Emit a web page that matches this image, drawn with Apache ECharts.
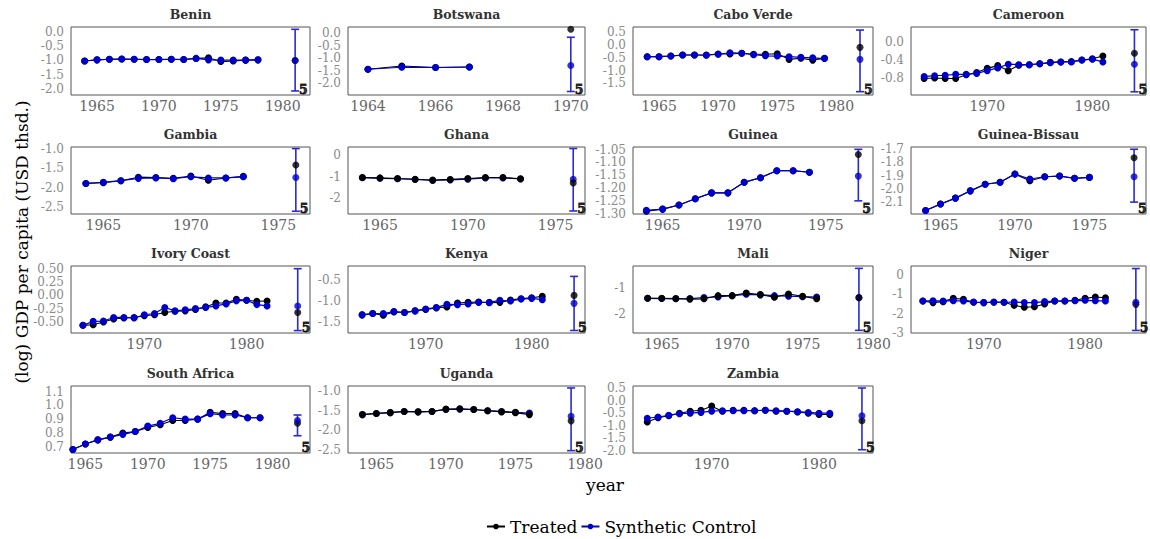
<!DOCTYPE html>
<html><head><meta charset="utf-8">
<script src="https://cdn.jsdelivr.net/npm/echarts@6/dist/echarts.min.js"></script>
<style>html,body{margin:0;padding:0;background:#fff}#c{width:1150px;height:539px}</style>
</head><body><div id="c"></div>
<script>
// ---------------- DATA ----------------
const countries = ['Benin','Botswana','Cabo Verde','Cameroon','Gambia','Ghana','Guinea','Guinea-Bissau','Ivory Coast','Kenya','Mali','Niger','South Africa','Uganda','Zambia'];
const firstYear = 1964;

const benin_treated = [-1.02,-0.98,-0.96,-0.95,-0.96,-0.97,-0.97,-0.96,-0.97,-0.93,-0.91,-1.04,-1.02,-0.99,-0.98];
const benin_synthetic = [-1.02,-0.98,-0.96,-0.95,-0.96,-0.97,-0.97,-0.96,-0.97,-0.93,-0.98,-0.99,-0.99,-0.99,-0.98];
const botswana_treated = [-1.44,-1.31,-1.37,-1.35];
const botswana_synthetic = [-1.44,-1.36,-1.37,-1.35];
const caboverde_treated = [-0.455,-0.455,-0.43,-0.39,-0.39,-0.39,-0.35,-0.35,-0.32,-0.36,-0.36,-0.34,-0.56,-0.52,-0.59,-0.52];
const caboverde_synthetic = [-0.455,-0.455,-0.43,-0.39,-0.39,-0.40,-0.36,-0.30,-0.32,-0.38,-0.42,-0.43,-0.455,-0.48,-0.50,-0.53];
const cameroon_treated = [-0.80,-0.79,-0.80,-0.80,-0.72,-0.67,-0.58,-0.52,-0.63,-0.51,-0.50,-0.48,-0.45,-0.44,-0.43,-0.40,-0.37,-0.31];
const cameroon_synthetic = [-0.76,-0.74,-0.73,-0.71,-0.71,-0.69,-0.63,-0.57,-0.49,-0.50,-0.50,-0.48,-0.46,-0.44,-0.44,-0.40,-0.38,-0.44];
const gambia_treated = [-1.89,-1.87,-1.82,-1.73,-1.74,-1.76,-1.70,-1.81,-1.75,-1.71];
const gambia_synthetic = [-1.89,-1.86,-1.82,-1.76,-1.75,-1.77,-1.72,-1.75,-1.75,-1.72];
const ghana_treated = [-1.03,-1.05,-1.08,-1.11,-1.15,-1.12,-1.08,-1.03,-1.03,-1.09];
const ghana_synthetic = [-1.04,-1.07,-1.09,-1.12,-1.17,-1.14,-1.11,-1.05,-1.05,-1.10];
const guinea_treated = [-1.289,-1.281,-1.265,-1.241,-1.218,-1.218,-1.177,-1.159,-1.132,-1.132,-1.138];
const guinea_synthetic = [-1.286,-1.281,-1.265,-1.241,-1.218,-1.218,-1.177,-1.159,-1.132,-1.132,-1.138];
const guineabissau_treated = [-2.163,-2.115,-2.07,-2.015,-1.965,-1.95,-1.888,-1.938,-1.908,-1.903,-1.92,-1.913];
const guineabissau_synthetic = [-2.163,-2.115,-2.07,-2.015,-1.965,-1.95,-1.888,-1.925,-1.908,-1.903,-1.92,-1.913];
const ivorycoast_treated = [-0.557,-0.545,-0.495,-0.44,-0.42,-0.41,-0.378,-0.36,-0.317,-0.293,-0.287,-0.263,-0.213,-0.139,-0.139,-0.071,-0.09,-0.108,-0.102];
const ivorycoast_synthetic = [-0.557,-0.483,-0.477,-0.41,-0.41,-0.42,-0.36,-0.336,-0.225,-0.287,-0.269,-0.244,-0.225,-0.195,-0.158,-0.10,-0.09,-0.17,-0.195];
const kenya_treated = [-1.327,-1.296,-1.335,-1.256,-1.272,-1.232,-1.20,-1.16,-1.138,-1.044,-1.028,-1.02,-1.036,-1.028,-0.973,-0.94,-0.917,-0.886];
const kenya_synthetic = [-1.327,-1.296,-1.296,-1.248,-1.272,-1.232,-1.185,-1.153,-1.075,-1.083,-1.067,-1.028,-1.028,-0.98,-0.996,-0.949,-0.933,-0.965];
const mali_treated = [-1.40,-1.40,-1.41,-1.43,-1.42,-1.30,-1.30,-1.20,-1.26,-1.36,-1.24,-1.32,-1.42];
const mali_synthetic = [-1.40,-1.41,-1.42,-1.41,-1.37,-1.35,-1.30,-1.25,-1.27,-1.30,-1.32,-1.34,-1.35];
const niger_treated = [-1.36,-1.44,-1.39,-1.22,-1.27,-1.42,-1.44,-1.42,-1.42,-1.58,-1.68,-1.65,-1.51,-1.36,-1.36,-1.32,-1.22,-1.15,-1.19];
const niger_synthetic = [-1.36,-1.34,-1.36,-1.34,-1.36,-1.41,-1.44,-1.41,-1.42,-1.41,-1.44,-1.44,-1.39,-1.36,-1.36,-1.34,-1.32,-1.34,-1.36];
const southafrica_treated = [0.68,0.72,0.75,0.77,0.80,0.81,0.84,0.86,0.89,0.89,0.90,0.95,0.94,0.94,0.91,0.91];
const southafrica_synthetic = [0.68,0.72,0.75,0.77,0.79,0.81,0.85,0.87,0.91,0.90,0.90,0.94,0.93,0.93,0.91,0.91];
const uganda_treated = [-1.60,-1.57,-1.55,-1.52,-1.53,-1.52,-1.46,-1.45,-1.47,-1.50,-1.53,-1.55,-1.60];
const uganda_synthetic = [-1.60,-1.57,-1.55,-1.52,-1.53,-1.52,-1.47,-1.46,-1.47,-1.50,-1.52,-1.54,-1.56];
const zambia_treated = [-0.85,-0.68,-0.60,-0.50,-0.42,-0.38,-0.22,-0.42,-0.38,-0.38,-0.40,-0.38,-0.42,-0.42,-0.45,-0.50,-0.55,-0.55];
const zambia_synthetic = [-0.70,-0.65,-0.58,-0.52,-0.50,-0.47,-0.42,-0.40,-0.40,-0.40,-0.40,-0.38,-0.40,-0.42,-0.44,-0.47,-0.50,-0.50];

// post-period estimate with interval
const postYear      = [1981, 1970, 1982, 1984, 1976, 1976, 1977, 1978, 1985, 1984, 1979, 1985, 1982, 1979, 1984];
const postTreated   = [-1.0, 0.16, -0.09, -0.25, -1.42, -1.28, -1.069, -1.765, -0.317, -0.862, -1.375, -1.53, 0.87, -1.76, -0.80];
const postSynthetic = [-1.0, -1.29, -0.56, -0.49, -1.74, -1.11, -1.153, -1.908, -0.195, -1.052, -1.375, -1.42, 0.89, -1.64, -0.60];
const ciLow         = [-2.06, -2.33, -1.83, -1.09, -2.60, -2.58, -1.249, -2.10, -0.655, -1.70, -2.61, -2.87, 0.78, -2.52, -1.95];
const ciHigh        = [0.08, -0.16, 0.59, 0.26, -1.0, 0.31, -1.049, -1.70, 0.50, -0.408, -0.27, 0.31, 0.93, -0.92, 0.50];
const ciCount       = [5,5,5,5,5,5,5,5,5,5,5,5,5,5,5];

// axis ranges and tick labels
const xMin = [1962.9, 1963.41, 1962.8, 1962.75, 1963.15, 1963.18, 1963.18, 1963.02, 1962.83, 1962.67, 1962.96, 1962.83, 1963.85, 1962.96, 1962.67];
const xMax = [1982.2, 1970.42, 1983.1, 1985.1, 1976.81, 1976.67, 1977.9, 1978.8, 1986.2, 1985.03, 1980.0, 1986.0, 1983.0, 1980.0, 1985.03];
const yMin = [-2.2, -2.47, -1.96, -1.16, -2.67, -2.72, -1.30, -2.19, -0.70, -1.76, -2.71, -3.0, 0.655, -2.58, -2.08];
const yMax = [0.16, 0.25, 0.71, 0.32, -0.96, 0.38, -1.04, -1.683, 0.55, -0.16, -0.18, 0.44, 1.14, -0.87, 0.58];
const xTicks = [
  [1965,1970,1975,1980],[1964,1966,1968,1970],[1965,1970,1975,1980],[1970,1980],
  [1965,1970,1975],[1965,1970,1975],[1965,1970,1975],[1965,1970,1975],
  [1970,1980],[1970,1980],[1965,1970,1975,1980],[1970,1980],
  [1965,1970,1975,1980],[1965,1970,1975,1980],[1970,1980]
];
const yTicks = [
  [0,-0.5,-1,-1.5,-2],[0,-0.5,-1,-1.5,-2],[0.5,0,-0.5,-1,-1.5],[0,-0.4,-0.8],
  [-1,-1.5,-2,-2.5],[0,-1,-2],[-1.05,-1.1,-1.15,-1.2,-1.25,-1.3],[-1.7,-1.8,-1.9,-2.0,-2.1],
  [0.5,0.25,0,-0.25,-0.5],[-0.5,-1,-1.5],[-1,-2],[0,-1,-2,-3],
  [1.1,1.0,0.9,0.8,0.7],[-1,-1.5,-2,-2.5],[0.5,0,-0.5,-1,-1.5,-2]
];
const yDecimals = [1,1,1,1,1,0,2,1,2,1,0,0,1,1,1];

// ---------------- LAYOUT / STYLE ----------------
const treatedData = [benin_treated,botswana_treated,caboverde_treated,cameroon_treated,gambia_treated,ghana_treated,guinea_treated,guineabissau_treated,ivorycoast_treated,kenya_treated,mali_treated,niger_treated,southafrica_treated,uganda_treated,zambia_treated];
const syntheticData = [benin_synthetic,botswana_synthetic,caboverde_synthetic,cameroon_synthetic,gambia_synthetic,ghana_synthetic,guinea_synthetic,guineabissau_synthetic,ivorycoast_synthetic,kenya_synthetic,mali_synthetic,niger_synthetic,southafrica_synthetic,uganda_synthetic,zambia_synthetic];
const blackOnTop = [false,false,false,false,false,true,false,false,false,false,true,false,false,true,false];

const FONT = 'DejaVu Serif';
const BLUE = '#0000CC';
const ERR = '#2a2ad4';
const colLeft = [71, 348, 633, 911];
const colWidth = [239, 237, 240, 235];
const rowTop = [27, 147, 266, 386];
const rowHeight = [68, 67, 67, 67];

const grids = [], xAxes = [], yAxes = [], series = [], graphics = [];

countries.forEach((name, i) => {
  const r = Math.floor(i / 4), c = i % 4;
  grids.push({left: colLeft[c], top: rowTop[r], width: colWidth[c], height: rowHeight[r],
    show: true, borderColor: '#555', borderWidth: 1, backgroundColor: 'transparent'});
  xAxes.push({type: 'value', gridIndex: i, min: xMin[i], max: xMax[i],
    splitLine: {show: false}, axisLine: {show: false}, axisTick: {show: false},
    axisLabel: {customValues: xTicks[i], margin: 4, fontFamily: FONT, fontSize: 14, color: '#666',
      formatter: v => String(Math.round(v))}});
  yAxes.push({type: 'value', gridIndex: i, min: yMin[i], max: yMax[i],
    splitLine: {show: false}, axisLine: {show: false}, axisTick: {show: false},
    axisLabel: {customValues: yTicks[i], margin: 7, fontFamily: FONT, fontSize: 12, color: '#8a8a8a',
      formatter: v => Number(v).toFixed(yDecimals[i])}});

  const tdat = treatedData[i].map((v, k) => [firstYear + k, v]);
  const sdat = syntheticData[i].map((v, k) => [firstYear + k, v]);
  const zT = blackOnTop[i] ? 5 : 4, zS = blackOnTop[i] ? 4 : 5;

  series.push({type: 'custom', xAxisIndex: i, yAxisIndex: i, silent: true, z: 2,
    data: [[postYear[i], ciLow[i], ciHigh[i]]],
    renderItem: (params, api) => {
      const x = api.value(0);
      const lo = api.coord([x, api.value(1)]);
      const hi = api.coord([x, api.value(2)]);
      const w = 4, st = {stroke: ERR, lineWidth: 1.6};
      return {type: 'group', children: [
        {type: 'line', shape: {x1: lo[0], y1: lo[1], x2: hi[0], y2: hi[1]}, style: st},
        {type: 'line', shape: {x1: lo[0] - w, y1: lo[1], x2: lo[0] + w, y2: lo[1]}, style: st},
        {type: 'line', shape: {x1: hi[0] - w, y1: hi[1], x2: hi[0] + w, y2: hi[1]}, style: st}
      ]};
    }});
  series.push({type: 'line', name: 'Treated', xAxisIndex: i, yAxisIndex: i, data: tdat,
    symbol: 'circle', symbolSize: 7, showAllSymbol: true, z: zT,
    itemStyle: {color: '#000'}, lineStyle: {color: '#000', width: 1.1}, emphasis: {disabled: true}});
  series.push({type: 'line', name: 'Synthetic Control', xAxisIndex: i, yAxisIndex: i, data: sdat,
    symbol: 'circle', symbolSize: 7, showAllSymbol: true, z: zS,
    itemStyle: {color: BLUE}, lineStyle: {color: BLUE, width: 1.2}, emphasis: {disabled: true}});
  series.push({type: 'scatter', xAxisIndex: i, yAxisIndex: i, data: [[postYear[i], postTreated[i]]],
    symbolSize: 7, z: zT, itemStyle: {color: '#000'}, silent: true});
  series.push({type: 'scatter', xAxisIndex: i, yAxisIndex: i, data: [[postYear[i], postSynthetic[i]]],
    symbolSize: 7, z: zS, itemStyle: {color: BLUE}, silent: true});
  series.push({type: 'scatter', xAxisIndex: i, yAxisIndex: i, data: [[postYear[i], yMin[i]]],
    symbolSize: 0.1, z: 7, itemStyle: {color: 'transparent'}, silent: true, clip: false,
    label: {show: true, formatter: String(ciCount[i]), position: [4, -12], fontFamily: FONT,
      fontWeight: 'bold', fontSize: 12.5, color: '#000', textBorderColor: '#000', textBorderWidth: 0.8}});

  graphics.push({type: 'text', x: colLeft[c] + colWidth[c] / 2, y: rowTop[r] - 12.5,
    style: {text: name, fontFamily: FONT, fontWeight: 'bold', fontSize: 12.5, fill: '#333',
      textAlign: 'center', textVerticalAlign: 'middle'}});
});

graphics.push({type: 'text', x: 605, y: 485,
  style: {text: 'year', fontFamily: FONT, fontSize: 17, fill: '#000', textAlign: 'center', textVerticalAlign: 'middle'}});
graphics.push({type: 'text', x: 22, y: 242, rotation: Math.PI / 2,
  style: {text: '(log) GDP per capita (USD thsd.)', fontFamily: FONT, fontSize: 17, fill: '#000',
    textAlign: 'center', textVerticalAlign: 'middle'}});

const chart = echarts.init(document.getElementById('c'), null, {renderer: 'svg'});
chart.setOption({
  animation: false,
  grid: grids, xAxis: xAxes, yAxis: yAxes, series: series, graphic: graphics,
  legend: {data: ['Treated', 'Synthetic Control'], left: 481, top: 513, itemWidth: 18, itemHeight: 7,
    itemGap: 3, selectedMode: false, textStyle: {fontFamily: FONT, fontSize: 17, color: '#000'}}
});
</script></body></html>
